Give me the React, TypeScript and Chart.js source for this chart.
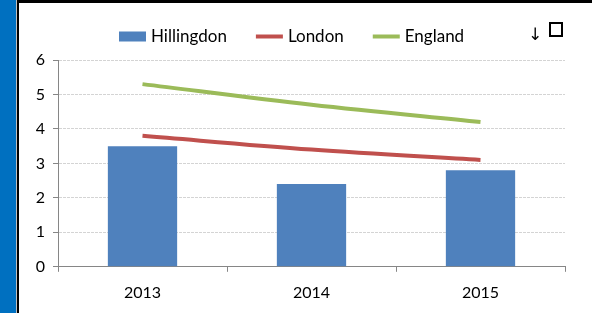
import React, { useEffect, useRef } from 'react';
import { Chart, registerables } from 'chart.js';

Chart.register(...registerables);

const categories = ['2013', '2014', '2015'];
const hillingdon = [3.5, 2.4, 2.8];
const london = [3.8, 3.4, 3.1];
const england = [5.3, 4.7, 4.2];
const yTicks = [0, 1, 2, 3, 4, 5, 6];

const FONT = 'Lato, "Open Sans", sans-serif';
const AXIS = '#868686';
const GRID = '#d4d4d4';

const legendPlugin = {
  id: 'excelLegend',
  afterDraw(chart: any) {
    const ctx = chart.ctx;
    ctx.save();
    ctx.font = `17px ${FONT}`;
    ctx.textBaseline = 'middle';
    let x = 100;
    const y = 33.5;
    chart.data.datasets.forEach((ds: any) => {
      if (ds.type === 'line') {
        ctx.strokeStyle = ds.borderColor;
        ctx.lineWidth = 4;
        ctx.beginPath();
        ctx.moveTo(x, y);
        ctx.lineTo(x + 27, y);
        ctx.stroke();
      } else {
        ctx.fillStyle = ds.backgroundColor;
        ctx.fillRect(x, y - 5, 27, 10);
      }
      x += 27 + 5;
      ctx.fillStyle = '#000';
      ctx.fillText(ds.label, x, y);
      x += ctx.measureText(ds.label).width + 29;
    });
    ctx.restore();
  },
};

export default function App() {
  const ref = useRef<HTMLCanvasElement | null>(null);

  useEffect(() => {
    if (!ref.current) return;
    const chart = new Chart(ref.current, {
      type: 'bar',
      data: {
        labels: categories,
        datasets: [
          {
            type: 'bar',
            label: 'Hillingdon',
            data: hillingdon,
            backgroundColor: '#4F81BD',
            borderWidth: 0,
            barPercentage: 0.41,
            categoryPercentage: 1,
            order: 2,
          } as any,
          {
            type: 'line',
            label: 'London',
            data: london,
            borderColor: '#C0504D',
            borderWidth: 4,
            pointRadius: 0,
            tension: 0.35,
            fill: false,
            order: 1,
          } as any,
          {
            type: 'line',
            label: 'England',
            data: england,
            borderColor: '#9BBB59',
            borderWidth: 4,
            pointRadius: 0,
            tension: 0.35,
            fill: false,
            order: 1,
          } as any,
        ],
      },
      options: {
        responsive: false,
        animation: false,
        layout: { padding: { top: 57, right: 27, bottom: 0, left: 0 } },
        plugins: {
          legend: { display: false },
          tooltip: { enabled: false },
        },
        scales: {
          x: {
            offset: true,
            grid: {
              offset: true,
              drawOnChartArea: false,
              drawTicks: true,
              tickLength: 5,
              tickColor: AXIS,
            },
            border: { display: true, color: AXIS, width: 1 },
            ticks: {
              color: '#000',
              font: { family: FONT, size: 16 },
              padding: 11,
              maxRotation: 0,
            },
          },
          y: {
            min: 0,
            max: 6,
            afterBuildTicks: (s: any) => {
              s.ticks = yTicks.map((v) => ({ value: v }));
            },
            afterFit: (s: any) => {
              s.width = 39;
            },
            grid: {
              color: GRID,
              lineWidth: 1,
              drawTicks: true,
              tickLength: 5,
              tickColor: AXIS,
            },
            border: { display: true, color: AXIS, width: 1, dash: [3, 1] },
            ticks: {
              color: '#000',
              font: { family: FONT, size: 16 },
              padding: 8,
            },
          },
        },
      },
      plugins: [legendPlugin],
    } as any);
    return () => chart.destroy();
  }, []);

  return (
    <div
      style={{
        position: 'fixed',
        left: 0,
        top: 0,
        width: 592,
        height: 313,
        background: '#fff',
        overflow: 'hidden',
      }}
    >
      <div style={{ position: 'absolute', left: 0, top: 0, width: 16, height: 313, background: '#0070C0' }} />
      <div style={{ position: 'absolute', left: 16, top: 0, width: 1, height: 313, background: '#bfbfbf' }} />
      <div style={{ position: 'absolute', left: 17, top: 0, width: 2, height: 313, background: '#000' }} />
      <div style={{ position: 'absolute', left: 17, top: 0, width: 575, height: 3, background: '#000' }} />
      <canvas
        ref={ref}
        width={573}
        height={310}
        style={{ position: 'absolute', left: 19, top: 3, width: 573, height: 310 }}
      />
      <span
        style={{
          position: 'absolute',
          left: 528,
          top: 24,
          fontFamily: '"DejaVu Sans", sans-serif',
          fontSize: 17,
          lineHeight: '20px',
          color: '#000',
        }}
      >
        ↓
      </span>
      <div
        style={{
          position: 'absolute',
          left: 549,
          top: 22,
          width: 10,
          height: 11,
          border: '2px solid #000',
        }}
      />
    </div>
  );
}
